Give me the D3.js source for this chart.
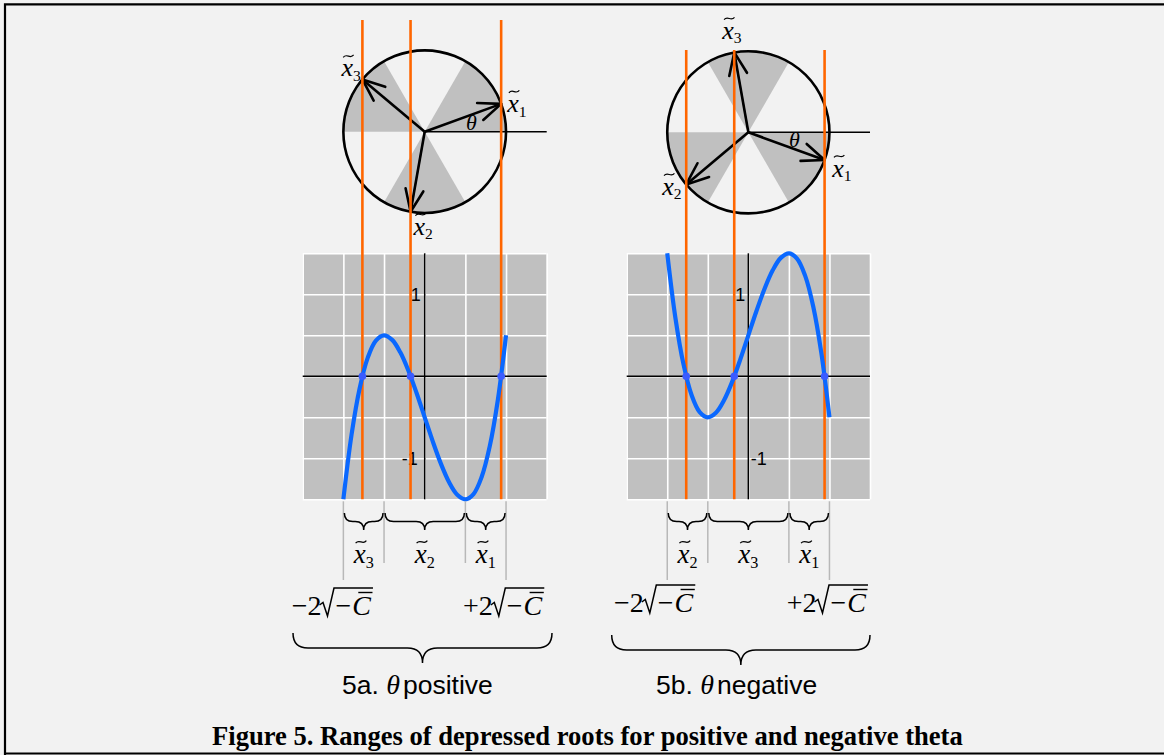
<!DOCTYPE html>
<html>
<head>
<meta charset="utf-8">
<script src="https://d3js.org/d3.v7.min.js"></script>
<style>
  body { margin: 0; background: #f2f2f2; }
  svg { display: block; }
</style>
</head>
<body>
<div id="fig"></div>
<script>

// ---- data ----
// curve samples, x from -1 to +1 (in units of 2*sqrt(-C))
var sampleX = [-1, -0.9, -0.8, -0.7, -0.6, -0.5, -0.4, -0.3, -0.2, -0.1, 0,
               0.1, 0.2, 0.3, 0.4, 0.5, 0.6, 0.7, 0.8, 0.9, 1];
var curveA = [-1.5, -0.716, -0.148, 0.228, 0.436, 0.5, 0.444, 0.292, 0.068, -0.204, -0.5,
              -0.796, -1.068, -1.292, -1.444, -1.5, -1.436, -1.228, -0.852, -0.284, 0.5];
var curveB = [1.5, 0.716, 0.148, -0.228, -0.436, -0.5, -0.444, -0.292, -0.068, 0.204, 0.5,
              0.796, 1.068, 1.292, 1.444, 1.5, 1.436, 1.228, 0.852, 0.284, -0.5];

// roots (subscript, position on x, angle of the arrow in degrees)
var rootNames = ["1", "2", "3"];
var rootValuesA = [0.94, -0.174, -0.766];
var rootAnglesA = [20, 260, 140];
var rootValuesB = [0.94, -0.766, -0.174];
var rootAnglesB = [-20, 220, 100];

// shaded sectors of the circle, degrees
var sectorsA = [[0, 60], [120, 180], [240, 300]];
var sectorsB = [[60, 120], [180, 240], [300, 360]];

// ranges under the small braces
var rangeStops = [-1, -0.5, 0.5, 1];
var rangeNamesA = ["3", "2", "1"];
var rangeNamesB = ["2", "3", "1"];

var gridTicks = [-1.5, -1, -0.5, 0, 0.5, 1, 1.5];
var tickLabels = [1, -1];

var panelCaptions = [["5a. ", "positive"], ["5b. ", "negative"]];
var figureCaption = "Figure 5. Ranges of depressed roots for positive and negative theta";

// ---- layout ----
var W = 1164, H = 755;
var serif = "'Liberation Serif', 'Times New Roman', serif";
var sans = "'Liberation Sans', Arial, sans-serif";
var orange = "#ff6600", blue = "#0a68ff", dotBlue = "#3b5cff", shade = "#c0c0c0";

var panels = [
  { left: 302.7, right: 546.7, cy: 131.7, lineTop: 20,
    values: curveA, roots: rootValuesA, angles: rootAnglesA, sectors: sectorsA, ranges: rangeNamesA,
    labelOff: [[6, 8], [3, 23], [-21, -3]], theta: [466, 130],
    tickSide: { "1": ["end", -4], "-1": ["end", -7] },
    bigBrace: [293, 552, 633], rangeLabel: [291.7, 463, 615], caption: [342, 694] },
  { left: 626.7, right: 870, cy: 132.3, lineTop: 50,
    values: curveB, roots: rootValuesB, angles: rootAnglesB, sectors: sectorsB, ranges: rangeNamesB,
    labelOff: [[7.6, 16.5], [-24, 10.3], [-12, -13.7]], theta: [789, 146.5],
    tickSide: { "1": ["end", -3], "-1": ["start", 2.5] },
    bigBrace: [611.7, 870, 635], rangeLabel: [614, 786.7, 612], caption: [656, 694] }
];
var gridTop = 253.3, gridBottom = 499.3;

var svg = d3.select("#fig").append("svg")
  .attr("width", W).attr("height", H);

// frame (right side cut off)
svg.append("path")
  .attr("d", "M5,755 L5,4.3 L1164,4.3")
  .attr("fill", "none").attr("stroke", "black").attr("stroke-width", 2.2);
svg.append("line")
  .attr("x1", 5).attr("x2", 1164).attr("y1", 753.5).attr("y2", 753.5)
  .attr("stroke", "black").attr("stroke-width", 2.2);

// x with a tilde and a subscript
function xLabel(g, x, y, sub, size) {
  var t = g.append("text")
    .attr("x", x).attr("y", y)
    .style("font-family", serif).style("font-size", size + "px");
  t.append("tspan").style("font-style", "italic").text("x");
  t.append("tspan").attr("dy", size * 0.18).style("font-size", (size * 0.6) + "px").text(sub);
  var tx = x + size * 0.27, ty = y - size * 0.78, w = size * 0.2, a = size * 0.045;
  g.append("path")
    .attr("d", "M" + (tx - w) + "," + (ty + a) +
               " C" + (tx - w * 0.3) + "," + (ty - 3 * a) + " " + (tx + w * 0.3) + "," + (ty + 3 * a) +
               " " + (tx + w) + "," + (ty - a))
    .attr("fill", "none").attr("stroke", "black").attr("stroke-width", 1.2);
}

// curly brace opening upwards, tip down
function brace(x1, x2, y0, h) {
  var xm = (x1 + x2) / 2, ym = y0 + h / 2, r = h / 2;
  return "M" + x1 + "," + y0 +
    " Q" + x1 + "," + ym + " " + (x1 + r) + "," + ym +
    " L" + (xm - r) + "," + ym +
    " Q" + xm + "," + ym + " " + xm + "," + (y0 + h) +
    " Q" + xm + "," + ym + " " + (xm + r) + "," + ym +
    " L" + (x2 - r) + "," + ym +
    " Q" + x2 + "," + ym + " " + x2 + "," + y0;
}

// ±2 sqrt(-C bar)
function rangeLabel(g, x0, yb, sign) {
  var size = 28;
  var t1 = g.append("text").attr("x", x0).attr("y", yb)
    .style("font-family", serif).style("font-size", size + "px").text(sign + "2");
  var rx = x0 + t1.node().getComputedTextLength() - 2;
  var mx = rx + 16;
  var t2 = g.append("text").attr("x", mx).attr("y", yb)
    .style("font-family", serif).style("font-size", size + "px").text("\u2212");
  var cx = mx + t2.node().getComputedTextLength() + 1;
  var t3 = g.append("text").attr("x", cx).attr("y", yb)
    .style("font-family", serif).style("font-size", size + "px").style("font-style", "italic").text("C");
  var cw = t3.node().getComputedTextLength();
  var end = cx + cw + 2;
  g.append("path")
    .attr("d", "M" + rx + "," + (yb - 10) + " L" + (rx + 3.5) + "," + (yb - 12.5) +
               " L" + (rx + 8) + "," + (yb + 1) + " L" + (rx + 14.5) + "," + (yb - 27) +
               " L" + end + "," + (yb - 27))
    .attr("fill", "none").attr("stroke", "black").attr("stroke-width", 1.5);
  g.append("line")
    .attr("x1", cx + 6).attr("x2", cx + cw + 1.5)
    .attr("y1", yb - 22.5).attr("y2", yb - 22.5)
    .attr("stroke", "black").attr("stroke-width", 1.4);
}

panels.forEach(function(p, pi) {
  var g = svg.append("g");
  var x = d3.scaleLinear().domain([-1.5, 1.5]).range([p.left, p.right]);
  var y = d3.scaleLinear().domain([-1.5, 1.5]).range([gridBottom, gridTop]);
  var cx = x(0), cy = p.cy, r = x(1) - x(0);

  // --- plot background and grid ---
  g.append("rect")
    .attr("x", x(-1.5)).attr("y", y(1.5))
    .attr("width", x(1.5) - x(-1.5)).attr("height", y(-1.5) - y(1.5))
    .attr("fill", shade);

  var gx = g.append("g")
    .attr("transform", "translate(0," + y(-1.5) + ")")
    .call(d3.axisBottom(x).tickValues(gridTicks).tickSize(-(y(-1.5) - y(1.5))).tickFormat(""));
  var gy = g.append("g")
    .attr("transform", "translate(" + x(-1.5) + ",0)")
    .call(d3.axisLeft(y).tickValues(gridTicks).tickSize(-(x(1.5) - x(-1.5))).tickFormat(""));
  [gx, gy].forEach(function(a) {
    a.select(".domain").remove();
    a.selectAll("line").attr("stroke", "white").attr("stroke-width", 1.6);
  });

  // axes
  g.append("line").attr("x1", x(-1.5)).attr("x2", x(1.5)).attr("y1", y(0)).attr("y2", y(0))
    .attr("stroke", "black").attr("stroke-width", 1.5);
  g.append("line").attr("x1", x(0)).attr("x2", x(0)).attr("y1", y(1.5)).attr("y2", y(-1.5))
    .attr("stroke", "black").attr("stroke-width", 1.5);

  tickLabels.forEach(function(v) {
    var side = p.tickSide[String(v)];
    g.append("text")
      .attr("x", x(0) + side[1]).attr("y", y(v) + 6.5)
      .attr("text-anchor", side[0])
      .style("font-family", sans).style("font-size", "18px")
      .text(v);
  });

  // --- circle ---
  var arc = d3.arc().innerRadius(0).outerRadius(r);
  g.selectAll(".sector").data(p.sectors).enter().append("path")
    .attr("transform", "translate(" + cx + "," + cy + ")")
    .attr("d", function(s) {
      return arc({ startAngle: (90 - s[1]) * Math.PI / 180, endAngle: (90 - s[0]) * Math.PI / 180 });
    })
    .attr("fill", shade);

  g.append("circle").attr("cx", cx).attr("cy", cy).attr("r", r)
    .attr("fill", "none").attr("stroke", "black").attr("stroke-width", 2.6);
  g.append("line").attr("x1", cx).attr("x2", x(1.5)).attr("y1", cy).attr("y2", cy)
    .attr("stroke", "black").attr("stroke-width", 1.6);

  p.angles.forEach(function(a, i) {
    var rad = a * Math.PI / 180;
    var tx = cx + r * Math.cos(rad), ty = cy - r * Math.sin(rad);
    g.append("line").attr("x1", cx).attr("y1", cy).attr("x2", tx).attr("y2", ty)
      .attr("stroke", "black").attr("stroke-width", 2.6);
    [-22, 22].forEach(function(d) {
      var b = (a + 180 + d) * Math.PI / 180;
      g.append("line").attr("x1", tx).attr("y1", ty)
        .attr("x2", tx + 24 * Math.cos(b)).attr("y2", ty - 24 * Math.sin(b))
        .attr("stroke", "black").attr("stroke-width", 2.6).attr("stroke-linecap", "round");
    });
    xLabel(g, tx + p.labelOff[i][0], ty + p.labelOff[i][1], rootNames[i], 26);
  });

  g.append("text").attr("x", p.theta[0]).attr("y", p.theta[1])
    .style("font-family", serif).style("font-style", "italic").style("font-size", "22px")
    .text("\u03B8");

  // --- orange root lines ---
  p.roots.forEach(function(v) {
    g.append("line").attr("x1", x(v)).attr("x2", x(v)).attr("y1", p.lineTop).attr("y2", y(-1.5))
      .attr("stroke", orange).attr("stroke-width", 2.6);
  });

  // --- curve and roots ---
  var pts = sampleX.map(function(v, i) { return [v, p.values[i]]; });
  g.append("path").datum(pts)
    .attr("fill", "none").attr("stroke", blue).attr("stroke-width", 4.2)
    .attr("d", d3.line().x(function(d) { return x(d[0]); }).y(function(d) { return y(d[1]); })
      .curve(d3.curveCatmullRom.alpha(0.5)));
  g.selectAll(".root").data(p.roots).enter().append("circle")
    .attr("cx", function(v) { return x(v); }).attr("cy", y(0)).attr("r", 3.8)
    .attr("fill", dotBlue);

  // --- ranges below the plot ---
  rangeStops.forEach(function(v, i) {
    var outer = (i === 0 || i === rangeStops.length - 1);
    g.append("line").attr("x1", x(v)).attr("x2", x(v)).attr("y1", y(-1.5) + 2).attr("y2", outer ? 580 : 563)
      .attr("stroke", "#b8b8b8").attr("stroke-width", 1.5);
  });
  p.ranges.forEach(function(name, i) {
    var a = x(rangeStops[i]), b = x(rangeStops[i + 1]);
    g.append("path").attr("d", brace(a + 1, b - 1, 513, 17))
      .attr("fill", "none").attr("stroke", "black").attr("stroke-width", 1.5);
    xLabel(g, (a + b) / 2 - 10, 563, name, 27);
  });

  rangeLabel(g, p.rangeLabel[0], p.rangeLabel[2], "\u2212");
  rangeLabel(g, p.rangeLabel[1], p.rangeLabel[2], "+");

  g.append("path").attr("d", brace(p.bigBrace[0], p.bigBrace[1], p.bigBrace[2], 30))
    .attr("fill", "none").attr("stroke", "black").attr("stroke-width", 1.5);

  var cap = g.append("text").attr("x", p.caption[0]).attr("y", p.caption[1])
    .style("font-family", sans).style("font-size", "26.5px");
  cap.append("tspan").text(panelCaptions[pi][0]);
  cap.append("tspan").style("font-family", serif).style("font-style", "italic").style("font-size", "28px").text("\u03B8");
  cap.append("tspan").attr("dx", 3).text(panelCaptions[pi][1]);
});

// figure caption, sized to the width it takes in the figure
var fc = svg.append("text")
  .attr("x", 212).attr("y", 745)
  .style("font-family", serif).style("font-weight", "bold").style("font-size", "23px")
  .text(figureCaption);
var natural = fc.node().getComputedTextLength();
fc.style("font-size", (23 * 751 / natural) + "px");

</script>
</body>
</html>
